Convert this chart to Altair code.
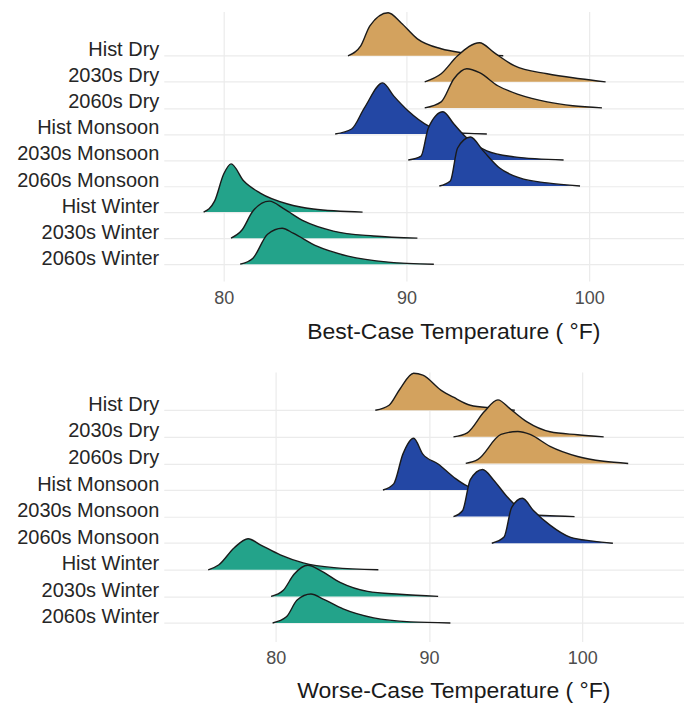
import altair as alt
import pandas as pd

groups = ["Hist Dry", "2030s Dry", "2060s Dry", "Hist Monsoon", "2030s Monsoon",
          "2060s Monsoon", "Hist Winter", "2030s Winter", "2060s Winter"]
seasons = ["Dry", "Dry", "Dry", "Monsoon", "Monsoon", "Monsoon", "Winter", "Winter", "Winter"]
season_colors = {"Dry": "#D3A25E", "Monsoon": "#2347A4", "Winter": "#23A38A"}

# Best-case: temperatures (°F) and scaled densities (in ridge-row units)
best_t = {
    "Hist Dry": [86.8, 87.5, 88.0, 89.0, 89.7, 90.6, 91.9, 93.0, 95.3],
    "2030s Dry": [91.0, 91.9, 92.8, 94.0, 94.8, 95.9, 97.7, 99.5, 100.9],
    "2060s Dry": [91.0, 91.9, 92.6, 93.3, 94.0, 95.0, 96.2, 97.7, 99.1, 100.7],
    "Hist Monsoon": [86.1, 87.0, 87.7, 88.7, 89.3, 90.1, 91.2, 92.2, 94.4],
    "2030s Monsoon": [90.1, 90.8, 91.2, 92.0, 92.6, 93.3, 94.4, 95.9, 98.6],
    "2060s Monsoon": [91.8, 92.4, 92.8, 93.5, 94.2, 95.1, 96.2, 97.7, 99.5],
    "Hist Winter": [78.9, 79.5, 80.0, 80.4, 81.1, 82.0, 83.5, 84.9, 87.6],
    "2030s Winter": [80.4, 81.0, 81.6, 82.5, 83.3, 84.4, 86.0, 88.2, 90.6],
    "2060s Winter": [80.9, 81.6, 82.4, 83.2, 83.8, 85.1, 86.8, 89.0, 91.5],
}
best_d = {
    "Hist Dry": [0, 0.38, 1.15, 1.65, 1.27, 0.65, 0.27, 0.12, 0],
    "2030s Dry": [0, 0.31, 1.0, 1.5, 1.12, 0.62, 0.31, 0.12, 0],
    "2060s Dry": [0, 0.23, 1.12, 1.5, 1.35, 0.85, 0.5, 0.23, 0.08, 0],
    "Hist Monsoon": [0, 0.19, 1.0, 1.96, 1.46, 0.88, 0.31, 0.08, 0],
    "2030s Monsoon": [0, 0.15, 1.23, 1.85, 1.38, 0.85, 0.35, 0.12, 0],
    "2060s Monsoon": [0, 0.19, 1.46, 1.88, 1.35, 0.69, 0.31, 0.12, 0],
    "Hist Winter": [0, 0.42, 1.46, 1.85, 1.19, 0.73, 0.31, 0.12, 0],
    "2030s Winter": [0, 0.31, 1.04, 1.42, 1.12, 0.65, 0.27, 0.08, 0],
    "2060s Winter": [0, 0.23, 1.15, 1.38, 1.19, 0.69, 0.31, 0.08, 0],
}

# Worse-case
worse_t = {
    "Hist Dry": [86.5, 87.4, 88.1, 89.0, 89.6, 90.8, 91.6, 92.7, 94.2, 95.6],
    "2030s Dry": [91.6, 92.5, 93.6, 94.5, 95.3, 96.4, 97.9, 99.7, 101.4],
    "2060s Dry": [92.4, 93.2, 94.7, 95.8, 96.6, 97.9, 99.7, 101.4, 103.0],
    "Hist Monsoon": [87.0, 87.7, 88.3, 89.0, 89.6, 90.6, 91.6, 92.7, 94.2],
    "2030s Monsoon": [91.6, 92.2, 92.7, 93.5, 94.2, 95.1, 96.2, 97.5, 99.5],
    "2060s Monsoon": [94.1, 94.9, 95.4, 96.1, 96.8, 97.9, 99.2, 100.7, 102.0],
    "Hist Winter": [75.6, 76.3, 77.3, 78.2, 79.0, 80.3, 81.8, 83.8, 86.7],
    "2030s Winter": [79.7, 80.5, 81.2, 82.1, 82.9, 84.2, 86.0, 88.1, 90.6],
    "2060s Winter": [79.8, 80.7, 81.4, 82.3, 83.1, 84.4, 86.4, 88.8, 91.4],
}
worse_d = {
    "Hist Dry": [0, 0.19, 0.79, 1.39, 1.32, 0.75, 0.49, 0.19, 0.08, 0],
    "2030s Dry": [0, 0.15, 0.94, 1.39, 1.05, 0.56, 0.19, 0.08, 0],
    "2060s Dry": [0, 0.15, 1.09, 1.2, 1.09, 0.64, 0.26, 0.08, 0],
    "Hist Monsoon": [0, 0.23, 1.35, 1.95, 1.35, 0.98, 0.49, 0.11, 0],
    "2030s Monsoon": [0, 0.23, 1.39, 1.77, 1.39, 0.75, 0.19, 0.04, 0],
    "2060s Monsoon": [0, 0.23, 1.35, 1.69, 1.24, 0.68, 0.23, 0.08, 0],
    "Hist Winter": [0, 0.19, 0.83, 1.17, 0.94, 0.56, 0.26, 0.08, 0],
    "2030s Winter": [0, 0.23, 0.83, 1.17, 0.98, 0.53, 0.19, 0.08, 0],
    "2060s Winter": [0, 0.23, 0.86, 1.09, 0.9, 0.53, 0.19, 0.04, 0],
}

x_ticks = [80, 90, 100]
n = len(groups)
label_expr = "[" + ",".join("'" + g + "'" for g in reversed(groups)) + "][datum.value]"


def build_df(temps, dens):
    rows = []
    for i, g in enumerate(groups):
        base = n - 1 - i
        for t, d in zip(temps[g], dens[g]):
            rows.append({"group": g, "season": seasons[i], "base": base,
                         "temp": t, "top": base + d})
    return pd.DataFrame(rows)


def panel(temps, dens, xdom, ydom, title, w, h, tpad, lpad):
    df = build_df(temps, dens)
    xs = alt.Scale(domain=xdom, nice=False, zero=False)
    ys = alt.Scale(domain=ydom, nice=False, zero=False)
    xaxis = alt.Axis(values=x_ticks, title=title, grid=True, gridColor="#EBEBEB",
                     gridWidth=1.2, domain=False, ticks=False, labelFontSize=18,
                     labelColor="#4D4D4D", labelPadding=lpad, titleFontSize=23,
                     titleFontWeight="normal", titleColor="#1A1A1A", titlePadding=tpad,
                     titleX=290, titleAlign="center", labelFont="Liberation Sans",
                     titleFont="Liberation Sans")
    yaxis = alt.Axis(values=list(range(n)), labelExpr=label_expr, title=None, grid=True,
                     gridColor="#EBEBEB", gridWidth=1.2, domain=False, ticks=False,
                     labelFontSize=20, labelColor="#262626", labelPadding=5,
                     labelBaseline="alphabetic", labelFont="Liberation Sans")
    base = alt.Chart(df)
    layers = []
    for i, g in enumerate(groups):
        sub = base.transform_filter(alt.datum.group == g)
        col = season_colors[seasons[i]]
        xenc = alt.X("temp:Q", scale=xs, axis=xaxis)
        yenc = alt.Y("top:Q", scale=ys, axis=yaxis)
        area = sub.mark_area(interpolate="monotone", fill=col, fillOpacity=1,
                             stroke=None).encode(
            x=xenc, y=yenc, y2=alt.Y2("base:Q"))
        line = sub.mark_line(interpolate="monotone", color="#1A1A1A",
                             strokeWidth=1.4).encode(x=xenc, y=yenc)
        layers += [area, line]
    return alt.layer(*layers).properties(width=w, height=h)


top = panel(best_t, best_d, [76.72, 105.19], [-0.65, 9.7],
            "Best-Case Temperature ( °F)", 521, 270, 13, 8)
bottom = panel(worse_t, worse_d, [72.7, 106.64], [-0.7, 9.44],
               "Worse-Case Temperature ( °F)", 521, 270, 12, 8)

chart = alt.vconcat(top, bottom, spacing=27).properties(
    padding={"left": 8, "top": 1, "right": 0, "bottom": 0},
    background="white"
).configure_view(stroke=None)

chart.save("out.html", embed_options={"renderer": "svg", "actions": False})
